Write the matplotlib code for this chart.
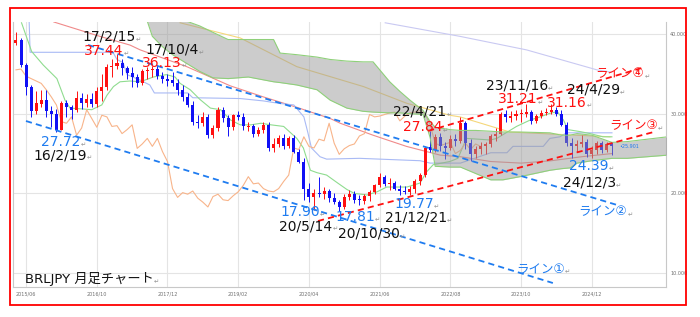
"""
BRLJPY 月足チャート（一目均衡表・移動平均・トレンドライン付き）
"""

import matplotlib
matplotlib.use("Agg")
import matplotlib.pyplot as plt
from matplotlib.patches import Rectangle

# 月インデックス 0 = 2015/06
opens = [38.9, 39.25, 36.1, 33.4, 30.3, 31.25, 31.7, 30.3, 30.0, 28.0,
         31.3, 30.8, 30.5, 32.0, 31.4, 31.9, 31.2, 32.9, 33.4, 35.9,
         36.0, 36.3, 35.7, 35.1, 34.6, 33.9, 35.3, 35.5, 35.6, 34.7,
         34.4, 34.2, 33.8, 33.0, 32.1, 31.1, 29.0, 28.8, 29.6, 27.3,
         28.2, 30.5, 29.4, 28.3, 29.8, 29.6, 28.3, 28.5, 27.5, 28.0,
         28.6, 25.65, 26.2, 26.9, 25.9, 26.9, 25.25, 24.0, 20.6, 19.5,
         20.1, 19.9, 20.3, 19.4, 18.9, 18.3, 19.6, 19.9, 19.2, 19.1,
         19.7, 20.2, 21.0, 22.1, 21.2, 21.3, 20.6, 20.3, 20.2, 20.6,
         21.5, 22.3, 25.8, 25.5, 27.1, 25.9, 25.7, 26.8, 26.6, 28.8,
         26.3, 24.9, 25.6, 26.0, 26.2, 27.2, 27.5, 29.9, 29.4, 29.7,
         29.9, 30.0, 30.2, 29.1, 29.7, 30.1, 30.15, 30.4, 30.0, 28.6,
         26.3, 26.0, 26.2, 26.4, 25.0, 25.4, 26.3, 25.5, 26.2]
highs = [40.3, 39.5, 36.3, 33.6, 32.9, 33.0, 33.0, 31.0, 30.6, 31.6,
         31.7, 31.1, 32.8, 32.6, 32.5, 32.6, 33.3, 35.0, 36.2, 36.8,
         37.44, 36.9, 36.0, 35.8, 35.0, 35.6, 35.9, 36.0, 36.13, 35.2,
         35.0, 35.2, 34.4, 33.6, 32.6, 31.6, 29.8, 30.2, 30.0, 28.6,
         30.8, 30.9, 29.8, 30.0, 30.3, 30.1, 28.9, 28.7, 28.3, 29.0,
         28.9, 26.9, 27.3, 27.4, 27.2, 27.3, 25.6, 24.4, 21.3, 20.5,
         22.0, 20.8, 20.6, 20.0, 19.2, 19.9, 20.4, 20.3, 19.8, 19.9,
         20.4, 21.2, 22.6, 22.3, 21.9, 21.6, 21.1, 20.9, 20.9, 21.8,
         22.5, 25.9, 27.84, 27.4, 27.6, 26.4, 27.3, 27.5, 29.6, 29.1,
         26.8, 25.9, 26.5, 26.4, 27.4, 28.2, 30.2, 30.4, 30.3, 30.4,
         30.6, 31.21, 30.5, 30.0, 30.5, 30.7, 31.16, 30.9, 30.5, 29.0,
         26.9, 26.7, 27.3, 26.8, 25.9, 26.6, 26.6, 26.5, 26.4]
lows = [38.6, 35.9, 32.4, 29.6, 30.0, 30.9, 29.6, 28.3, 27.72, 27.9,
        29.6, 29.3, 30.2, 30.6, 30.9, 30.8, 30.9, 31.6, 33.0, 34.6,
        35.6, 34.9, 34.3, 33.3, 33.4, 33.6, 34.4, 34.6, 34.4, 33.9,
        33.5, 33.5, 32.4, 31.6, 30.8, 28.6, 28.2, 28.4, 26.9, 26.9,
        27.8, 29.0, 27.2, 27.9, 29.2, 28.0, 27.8, 27.1, 27.2, 27.6,
        25.3, 25.2, 25.8, 25.6, 25.7, 25.1, 23.8, 19.2, 18.9, 17.90,
        19.6, 19.3, 18.9, 18.7, 17.81, 18.1, 19.2, 18.8, 18.6, 18.7,
        19.0, 19.9, 20.8, 20.9, 20.4, 20.4, 19.8, 19.9, 19.77, 20.0,
        21.1, 22.0, 25.2, 25.2, 25.3, 24.3, 25.5, 26.0, 26.3, 25.6,
        24.1, 24.5, 25.0, 24.9, 25.8, 26.6, 27.3, 29.0, 28.9, 29.2,
        29.0, 29.6, 28.7, 28.8, 29.5, 29.8, 29.9, 29.7, 28.4, 25.9,
        24.5, 25.2, 25.8, 24.6, 24.39, 25.0, 25.1, 25.2, 24.8]
closes = [39.25, 36.1, 33.4, 30.3, 31.3, 31.7, 30.3, 29.9, 28.0, 31.3,
          30.8, 30.5, 32.0, 31.4, 31.9, 31.2, 32.9, 33.4, 35.9, 36.0,
          36.3, 35.7, 35.1, 34.6, 33.9, 35.3, 35.5, 35.6, 34.7, 34.4,
          34.1, 33.8, 33.0, 32.1, 31.1, 29.0, 28.8, 29.6, 27.3, 28.2,
          30.5, 29.4, 28.3, 29.8, 29.6, 28.4, 28.5, 27.5, 28.0, 28.6,
          25.65, 26.2, 26.9, 25.9, 26.9, 25.25, 24.0, 20.6, 19.5, 20.1,
          19.9, 20.3, 19.4, 18.9, 18.3, 19.6, 19.9, 19.2, 19.1, 19.7,
          20.2, 21.0, 22.1, 21.2, 21.3, 20.6, 20.3, 20.2, 20.6, 21.5,
          22.3, 25.7, 25.5, 27.1, 25.9, 25.7, 26.8, 26.6, 28.8, 26.3,
          24.9, 25.6, 26.0, 26.2, 27.2, 27.5, 29.9, 29.6, 29.7, 29.9,
          30.1, 30.2, 29.1, 29.7, 30.1, 30.2, 30.4, 30.0, 28.6, 26.3,
          26.0, 26.2, 26.4, 25.0, 25.4, 26.3, 25.5, 26.2, 25.901]

# 転換線 (月インデックス, 値)
tenkan_x = [1.1, 3.1, 5.4, 8.1, 9.7, 10.7, 13, 15, 17, 18, 19.3, 20.6, 22.6, 24.6,
            27.2, 29.8, 31.5, 32.5, 34.5, 36.4, 38.5, 40.5, 42.5, 44.4, 46.5,
            48.5, 50.5, 53, 55.6, 56.9, 58.3, 59.6, 61.5, 63.7, 65.5, 67, 69.5,
            71.5, 73.4, 77.4, 80, 81.3, 82.6, 85.9, 87.5, 89.2, 93.9, 95.2, 99.1,
            101.8, 103.8, 105.7, 107.2, 108.4, 109.3, 111.7, 113.7, 116.2, 118]
tenkan_y = [41.4, 37.8, 36.1, 34.4, 31.7, 30.7, 30.6, 30.5, 31.1, 32.3, 33.4, 34.0,
            34.1, 34.0, 34.6, 34.9, 34.6, 33.8, 33.0, 31.8, 30.7, 30.5, 29.2, 28.6,
            28.6, 28.8, 28.6, 28.4, 26.9, 25.7, 22.9, 22.6, 22.3, 21.3, 20.5, 20.0,
            19.8, 20.2, 20.8, 20.8, 21.3, 22.7, 23.6, 24.0, 24.4, 26.9, 26.7, 26.9,
            28.4, 29.2, 29.6, 30.05, 30.25, 29.2, 28.0, 27.75, 27.5, 27.1, 27.1]

# 基準線
kijun_x = [0, 2.6, 2.8, 19.2, 20, 21.2, 22, 24.6, 26.5, 27.4, 34, 35, 44.4, 49, 52,
           55, 57, 57.8, 58.5, 60.2, 61.5, 68, 80, 82, 88, 94, 97.2, 98.4, 104.4,
           105.7, 107.7, 109, 118]
kijun_y = [41.7, 41.7, 37.7, 37.7, 36.8, 36.4, 34.9, 34.2, 33.6, 32.6, 32.6, 32.0,
           31.9, 31.6, 31.3, 31.1, 29.6, 27.6, 25.7, 24.6, 24.3, 24.4, 24.1, 23.8,
           23.8, 25.1, 25.1, 25.9, 25.9, 26.9, 27.1, 27.6, 27.6]

# 雲（先行スパン）
cloud_x = [26, 27, 29, 31, 33.8, 36.4, 39, 42, 46, 51, 52.3, 55.6, 59.6, 62.2, 65.5,
           68.7, 70.7, 74, 76, 78, 80.6, 82, 83, 86, 88, 91, 94, 96.4, 99.8, 105.7,
           108, 109.7, 111.1, 114, 118, 121, 125, 129]
cloud_top = [41.6, 41.6, 41.6, 41.6, 41.6, 41.0, 40.2, 39.3, 39.3, 39.3, 37.6, 37.4,
             37.1, 36.8, 36.6, 36.5, 36.5, 34.0, 32.8, 31.7, 30.4, 29.0, 28.3, 28.0,
             27.9, 27.9, 27.8, 27.7, 27.7, 27.6, 27.3, 27.3, 27.5, 27.3, 26.4, 26.5,
             26.8, 27.1]
cloud_bot = [41.6, 39.7, 38.4, 37.4, 36.3, 35.3, 34.5, 34.4, 34.6, 34.0, 33.9, 33.6,
             33.0, 31.7, 30.7, 30.3, 30.2, 30.1, 30.1, 30.0, 29.9, 27.0, 23.4, 23.3,
             23.3, 22.5, 21.7, 21.7, 22.1, 22.9, 23.1, 23.2, 23.8, 24.1, 24.4, 24.4,
             24.6, 24.8]

# 移動平均
ma60_x = [7.5, 16.6, 22.6, 24.6, 33.8, 42.4, 49, 55.6, 62.2, 64.2, 70.7, 77.3, 84,
          88, 94, 100, 106, 112, 118]
ma60_y = [41.5, 39.7, 38.6, 38.0, 35.9, 33.5, 32.1, 30.8, 29.4, 28.8, 27.3, 25.9,
          24.8, 24.6, 24.0, 23.8, 24.1, 24.6, 25.0]
ma120_x = [32.5, 44.4, 55.6, 68.8, 77.4, 85.9, 87.9, 97.8, 117.6]
ma120_y = [41.4, 39.5, 35.9, 33.4, 31.3, 29.8, 29.6, 27.7, 27.1]
ma240_x = [73.1, 87.9, 101.1, 115, 118]
ma240_y = [41.4, 39.7, 38.0, 35.5, 35.2]

# トレンドライン（手描き）
line1_x, line1_y = [1.98, 106.3], [29.08, 8.76]
line2_x, line2_y = [14.26, 119.0], [38.62, 18.55]
line3_x, line3_y = [59.8, 126.5], [16.54, 27.74]
line4_x, line4_y = [81.6, 124.6], [27.83, 35.86]

tick_pos = [2, 16, 30, 44, 58, 72, 86, 100, 114]
tick_labels = ["2015/06", "2016/10", "2017/12", "2019/02", "2020/04",
               "2021/06", "2022/08", "2023/10", "2024/12"]
y_ticks = [10, 20, 30, 40]
y_labels = ["10.000", "20.000", "30.000", "40.000"]

RED = "#ff1010"
BLUE = "#1f7cf0"
BLACK = "#111111"

# (x, y, テキスト, 色)
notes = [
    (18.4, 39.65, "17/2/15", BLACK),
    (17.4, 37.9, "37.44", RED),
    (30.9, 38.05, "17/10/4", BLACK),
    (28.9, 36.35, "36.13", RED),
    (8.9, 26.45, "27.72", BLUE),
    (8.7, 24.8, "16/2/19", BLACK),
    (56.2, 17.67, "17.90", BLUE),
    (57.4, 15.9, "20/5/14", BLACK),
    (67.1, 17.1, "17.81", BLUE),
    (69.8, 14.95, "20/10/30", BLACK),
    (78.8, 18.7, "19.77", BLUE),
    (79.2, 17.0, "21/12/21", BLACK),
    (80.0, 30.25, "22/4/21", BLACK),
    (80.6, 28.3, "27.84", RED),
    (99.2, 33.55, "23/11/16", BLACK),
    (99.4, 31.8, "31.21", RED),
    (114.3, 33.0, "24/4/29", BLACK),
    (109.1, 31.35, "31.16", RED),
    (113.5, 23.45, "24.39", BLUE),
    (113.5, 21.4, "24/12/3", BLACK),
]
line_notes = [
    (119.6, 35.0, "ライン④", RED),
    (122.2, 28.5, "ライン③", RED),
    (116.2, 17.7, "ライン②", BLUE),
    (103.8, 10.5, "ライン①", BLUE),
]

FONT = ["DejaVu Sans", "Noto Sans CJK JP"]


def label(ax, x, y, s, color, size, ha="center"):
    t = ax.text(x, y, s, color=color, fontsize=size, ha=ha, va="center",
                family=FONT, zorder=8)
    ax.annotate("↵", xy=(1, 0.1), xycoords=t, fontsize=4.5, color="#909090",
                ha="left", va="bottom", family=["DejaVu Sans"], zorder=8)


def plot():
    fig = plt.figure(figsize=(7, 3.17), dpi=100)
    ax = fig.add_axes([13 / 700, 1 - 287 / 317, 653 / 700, 265 / 317])

    idx = list(range(len(closes)))
    colors = [RED if c >= o else "#1010f5" for o, c in zip(opens, closes)]
    body = [c - o if abs(c - o) > 0.1 else 0.1 for o, c in zip(opens, closes)]

    # 移動平均・一目
    ax.plot(ma240_x, ma240_y, color="#c9c9f2", lw=0.8, zorder=2)
    ax.plot(ma120_x, ma120_y, color="#f5d77a", lw=0.8, zorder=2)
    ax.plot(ma60_x, ma60_y, color="#f08a8a", lw=0.8, zorder=2)
    ax.plot(kijun_x, kijun_y, color="#a9baf5", lw=0.8, zorder=2)
    ax.plot(tenkan_x, tenkan_y, color="#8fdc8f", lw=0.8, zorder=2)
    ax.plot([i - 26 for i in idx[26:]], closes[26:], color="#f8b48a", lw=0.8, zorder=2)

    # ローソク足
    ax.vlines(idx, lows, highs, colors=colors, lw=0.7, zorder=3)
    ax.bar(idx, body, bottom=opens, width=0.6, color=colors, lw=0, zorder=3)

    # 雲
    ax.fill_between(cloud_x, cloud_bot, cloud_top, color="#9a9a9a", alpha=0.5,
                    lw=0, zorder=4)
    ax.plot(cloud_x, cloud_top, color="#8fd07a", lw=0.8, zorder=4)
    ax.plot(cloud_x, cloud_bot, color="#8fd07a", lw=0.8, zorder=4)

    # トレンドライン
    ax.plot(line1_x, line1_y, color=BLUE, lw=1.3, dashes=(3.4, 2.3), zorder=5)
    ax.plot(line2_x, line2_y, color=BLUE, lw=1.3, dashes=(3.4, 2.3), zorder=5)
    ax.plot(line3_x, line3_y, color=RED, lw=1.3, dashes=(3.4, 2.3), zorder=5)
    ax.plot(line4_x, line4_y, color=RED, lw=1.3, dashes=(3.4, 2.3), zorder=5)

    for x, y, s, c in notes:
        label(ax, x, y, s, c, 10)
    for x, y, s, c in line_notes:
        label(ax, x, y, s, c, 9)
    label(ax, 1.8, 9.26, "BRLJPY 月足チャート", BLACK, 9.5, ha="left")
    ax.text(119.5, closes[-1], f"•{closes[-1]:.3f}", color=BLUE, fontsize=3.5,
            va="center", ha="left", zorder=8)

    ax.set_xlim(-0.59, 128.7)
    ax.set_ylim(8.26, 41.5)
    ax.set_xticks(tick_pos)
    ax.set_xticklabels(tick_labels)
    ax.set_yticks(y_ticks)
    ax.set_yticklabels(y_labels)
    ax.yaxis.tick_right()
    ax.tick_params(length=0, labelsize=3.5, labelcolor="#707070", pad=3)
    ax.grid(True, color="#e4e4e4", lw=0.8, zorder=0)
    ax.set_axisbelow(True)
    ax.spines["top"].set_visible(False)
    for side in ["left", "right", "bottom"]:
        ax.spines[side].set_color("#c8c8c8")

    fig.add_artist(Rectangle((10 / 700, 1 - 305 / 317), 676 / 700, 297 / 317,
                             transform=fig.transFigure, fill=False,
                             ec="#ff0000", lw=1.3))

    fig.savefig("out.png", dpi=100)


if __name__ == "__main__":
    plot()
